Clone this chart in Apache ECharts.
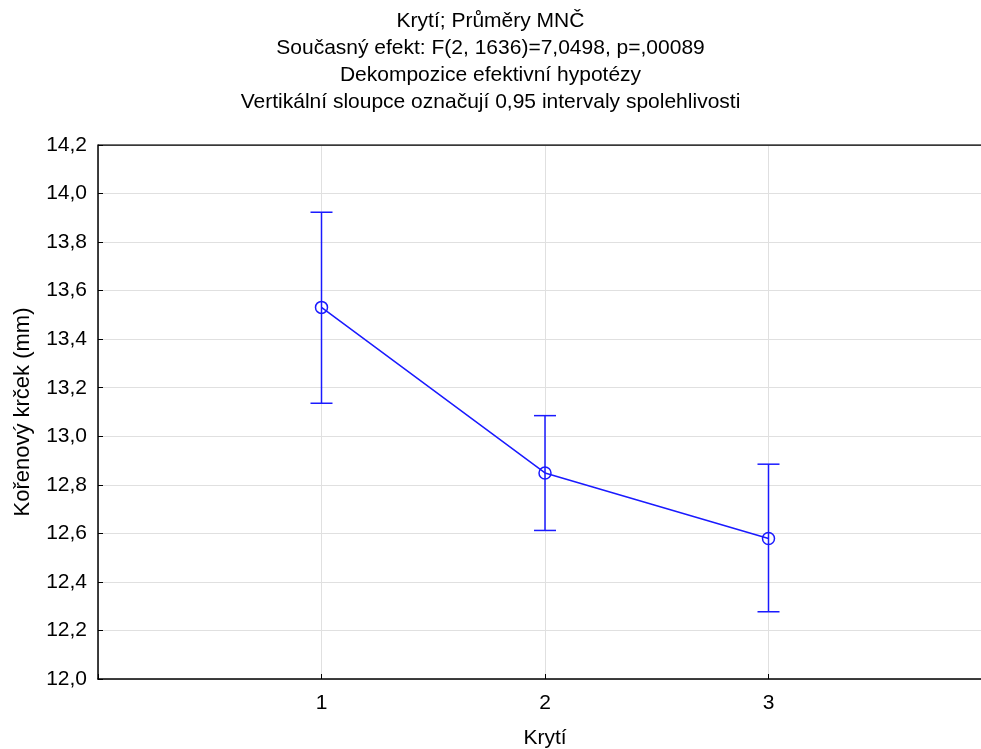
<!DOCTYPE html>
<html>
<head>
<meta charset="utf-8">
<script src="https://cdn.jsdelivr.net/npm/echarts@6/dist/echarts.min.js"></script>
<style>
  html, body { margin: 0; padding: 0; background: #fff; }
  #main { width: 981px; height: 749px; }
</style>
</head>
<body>
<div id="main"></div>
<script>
// hodnoty
var categories = [1, 2, 3];
var means = [13.531, 12.849, 12.579];
var lower = [13.136, 12.612, 12.277];
var upper = [13.923, 13.085, 12.885];
var yTicks = [12.0, 12.2, 12.4, 12.6, 12.8, 13.0, 13.2, 13.4, 13.6, 13.8, 14.0, 14.2];

var titleLines = [
  'Krytí; Průměry MNČ',
  'Současný efekt: F(2, 1636)=7,0498, p=,00089',
  'Dekompozice efektivní hypotézy',
  'Vertikální sloupce označují 0,95 intervaly spolehlivosti'
];

var blue = '#1a1aff';
var font = 'Arial, "Liberation Sans", sans-serif';

var chart = echarts.init(document.getElementById('main'));

var meanData = categories.map(function (c, i) { return [c, means[i]]; });
var errData = categories.map(function (c, i) { return [c, lower[i], upper[i]]; });

chart.setOption({
  animation: false,
  backgroundColor: '#fff',
  title: {
    text: titleLines.join('\n'),
    left: 'center',
    top: 3,
    textStyle: { fontFamily: font, fontSize: 21, fontWeight: 'normal', color: '#000', lineHeight: 27 }
  },
  grid: { left: 98, top: 145, width: 894, height: 534, outerBoundsMode: 'none' },
  xAxis: {
    type: 'value',
    min: 0, max: 4, interval: 1,
    name: 'Krytí',
    nameLocation: 'middle',
    nameGap: 49,
    nameTextStyle: { fontFamily: font, fontSize: 21, color: '#000' },
    axisLine: { lineStyle: { color: '#000', width: 1.5 } },
    axisTick: { inside: true, length: 5, lineStyle: { color: '#000' } },
    axisLabel: {
      fontFamily: font, fontSize: 21, color: '#000', margin: 14,
      formatter: function (v) { return categories.indexOf(v) >= 0 ? String(v) : ''; }
    },
    splitLine: { show: true, lineStyle: { color: '#e0e0e0', width: 1 } }
  },
  yAxis: {
    type: 'value',
    min: 12.0, max: 14.2, interval: 0.2,
    name: 'Kořenový krček (mm)',
    nameLocation: 'middle',
    nameGap: 64,
    nameRotate: 90,
    nameTextStyle: { fontFamily: font, fontSize: 22, color: '#000' },
    axisLine: { show: true, lineStyle: { color: '#000', width: 1.5 } },
    axisTick: { inside: true, length: 5, lineStyle: { color: '#000' } },
    axisLabel: {
      fontFamily: font, fontSize: 21, color: '#000', margin: 11,
      formatter: function (v) { return v.toFixed(1).replace('.', ','); }
    },
    splitLine: { show: true, lineStyle: { color: '#e0e0e0', width: 1 } }
  },
  series: [
    {
      type: 'custom',
      data: errData,
      z: 3,
      renderItem: function (params, api) {
        var x = api.value(0);
        var lo = api.coord([x, api.value(1)]);
        var hi = api.coord([x, api.value(2)]);
        var w = 11;
        var st = { stroke: blue, lineWidth: 1.5 };
        return {
          type: 'group',
          children: [
            { type: 'line', shape: { x1: lo[0], y1: lo[1], x2: hi[0], y2: hi[1] }, style: st },
            { type: 'line', shape: { x1: lo[0] - w, y1: lo[1], x2: lo[0] + w, y2: lo[1] }, style: st },
            { type: 'line', shape: { x1: hi[0] - w, y1: hi[1], x2: hi[0] + w, y2: hi[1] }, style: st }
          ]
        };
      }
    },
    {
      type: 'line',
      data: meanData,
      z: 4,
      symbol: 'circle',
      symbolSize: 12,
      itemStyle: { color: 'transparent', borderColor: blue, borderWidth: 1.5 },
      lineStyle: { color: blue, width: 1.5 }
    },
    {
      // horní rám grafu
      type: 'line',
      data: [[0, 14.2], [4, 14.2]],
      symbol: 'none',
      silent: true,
      lineStyle: { color: '#000', width: 1.5 }
    }
  ]
});
</script>
</body>
</html>
